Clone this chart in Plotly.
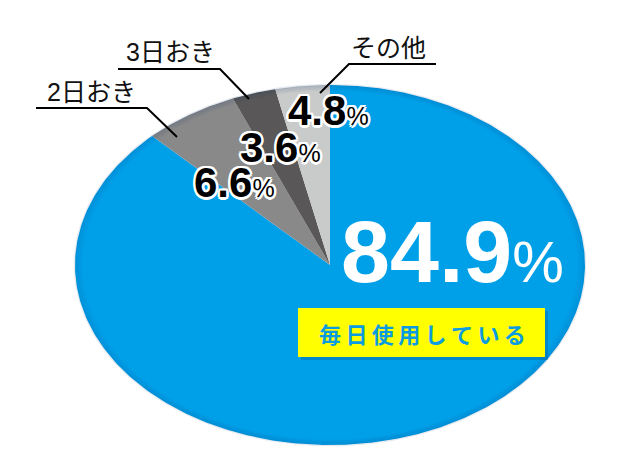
import numpy as np
import plotly.graph_objects as go

# ---- data ----
categories = ["毎日使用している", "2日おき", "3日おき", "その他"]
values = [84.9, 6.6, 3.6, 4.8]
colors = ["#00A0E9", "#898989", "#595757", "#C9CACA"]

# ---- geometry (screen pixels, axes map 1 unit = 1 px; page body has 8px margin) ----
W, H = 640, 461
OFF = 8
CX, CY, RX, RY = 330, 265, 255, 180
LATIN = "Liberation Sans, Arial, Noto Sans CJK JP, sans-serif"
JP = "Noto Sans CJK JP, sans-serif"


def ellipse_pt(theta_deg, scale=1.0):
    th = np.radians(theta_deg)
    s, c = np.sin(th), np.cos(th)
    t = 1.0 / np.sqrt((s / RX) ** 2 + (c / RY) ** 2)
    return CX + scale * t * s, CY - scale * t * c


fig = go.Figure()
total = sum(values)
start = 0.0
for cat, v, col in zip(categories, values, colors):
    end = start + v / total * 360.0
    ang = np.linspace(start, end, max(int((end - start) * 2), 8))
    px, py = ellipse_pt(ang)
    xs = [CX] + list(px) + [CX]
    ys = [CY] + list(py) + [CY]
    fig.add_trace(go.Scatter(x=xs, y=ys, mode="lines", fill="toself",
                             fillcolor=col, line=dict(width=0, color=col),
                             name=cat, hoverinfo="name"))
    start = end

# soft rim shading
full = np.linspace(0, 360, 721)
for i, sc in enumerate([1.0, 0.992, 0.984, 0.976]):
    ex, ey = ellipse_pt(full, sc)
    fig.add_trace(go.Scatter(x=ex, y=ey, mode="lines",
                             line=dict(width=2.5, color="rgba(0,50,110,%.3f)" % (0.10 - i * 0.022)),
                             hoverinfo="skip"))

# ---- leader lines & category labels ----
leaders = {
    "2日おき": ("M 36 108 L 147 108 L 177 137", 91, 92),
    "3日おき": ("M 118 69 L 220 69 L 249 99", 170, 52),
    "その他": ("M 436 64 L 349 64 L 320 93", 388, 48),
}
shapes = []
annotations = []
for cat in categories[1:]:
    path, lx, ly = leaders[cat]
    shapes.append(dict(type="path", path=path, xref="x", yref="y",
                       line=dict(color="black", width=2)))
    annotations.append(dict(x=lx, y=ly, xref="x", yref="y", text=cat, showarrow=False,
                            font=dict(family=LATIN, size=25, color="#111")))

# ---- percentage labels (black with white outline) ----
outline = ("2.5px 0 0 #fff, -2.5px 0 0 #fff, 0 2.5px 0 #fff, 0 -2.5px 0 #fff, "
           "1.8px 1.8px 0 #fff, -1.8px -1.8px 0 #fff, 1.8px -1.8px 0 #fff, -1.8px 1.8px 0 #fff")
pct_pos = {"2日おき": (234, 182), "3日おき": (280, 147), "その他": (328, 110)}
for cat, v in zip(categories[1:], values[1:]):
    x, y = pct_pos[cat]
    annotations.append(dict(
        x=x, y=y, xref="x", yref="y", showarrow=False,
        text="<b>%.1f</b><span style='font-size:25px'>%%</span>" % v,
        font=dict(family=LATIN, size=42, color="black", shadow=outline)))

# main value
annotations.append(dict(
    x=452, y=251, xref="x", yref="y", showarrow=False,
    text="<b>%.1f</b><span style='font-size:58px'>%%</span>" % values[0],
    font=dict(family=LATIN, size=88, color="white")))

# yellow box label
shapes.append(dict(type="rect", x0=301, y0=311, x1=548, y1=360, xref="x", yref="y",
                   fillcolor="rgba(0,60,120,0.25)", line=dict(width=0), layer="above"))
shapes.append(dict(type="rect", x0=298, y0=308, x1=545, y1=357, xref="x", yref="y",
                   fillcolor="#FFFF00", line=dict(width=0), layer="above"))
annotations.append(dict(
    x=422, y=333, xref="x", yref="y", showarrow=False,
    text="<b>" + "\u2009".join(categories[0]) + "</b>",
    font=dict(family=JP, size=22, color="#0A9BE0")))

fig.update_layout(
    width=W - OFF, height=H - OFF, margin=dict(l=0, r=0, t=0, b=0),
    paper_bgcolor="white", plot_bgcolor="white", showlegend=False,
    xaxis=dict(range=[OFF, W], visible=False, fixedrange=True),
    yaxis=dict(range=[H, OFF], visible=False, fixedrange=True),
    shapes=shapes, annotations=annotations, hovermode=False,
)

fig.write_html("out.html")
